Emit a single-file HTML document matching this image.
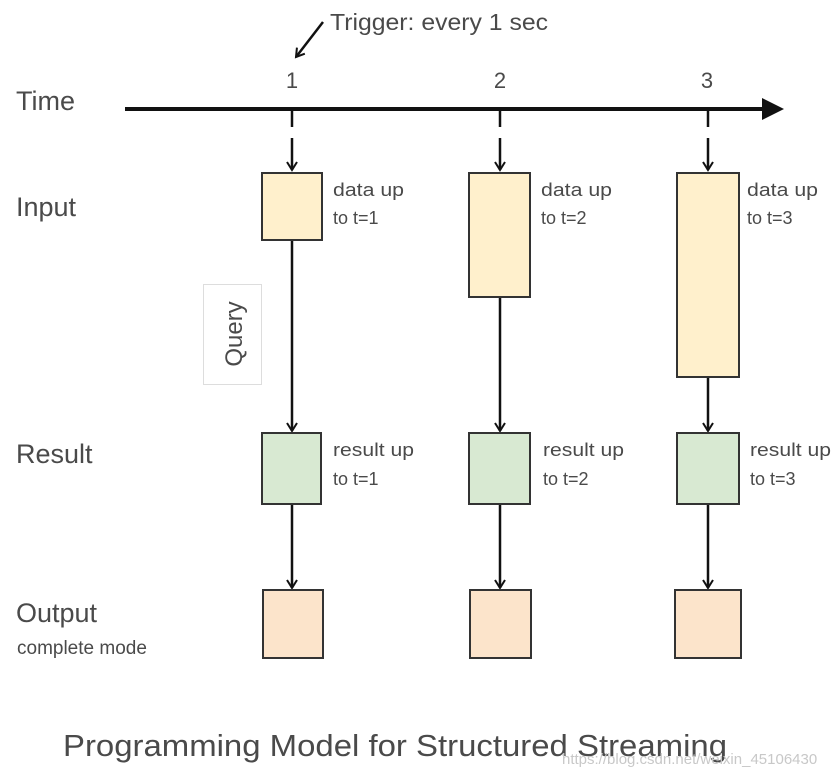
<!DOCTYPE html>
<html><head><meta charset="utf-8"><style>
html,body{margin:0;padding:0;background:#fff;}
svg{display:block;}
text{font-family:"Liberation Sans",sans-serif;fill:#4a4a4a;}
</style></head><body>
<svg width="839" height="779" viewBox="0 0 839 779" xmlns="http://www.w3.org/2000/svg">
<defs>
<marker id="ah" markerWidth="12" markerHeight="12" refX="10" refY="6" orient="auto" markerUnits="userSpaceOnUse" viewBox="0 0 12 12">
<path d="M2,1 L10,6 L2,11" fill="none" stroke="#111" stroke-width="2"/>
</marker>
</defs>
<line x1="125" y1="109" x2="764" y2="109" stroke="#111" stroke-width="4"/>
<polygon points="762,98 784,109 762,120" fill="#111"/>
<text x="16" y="110" font-size="27">Time</text>
<text x="16" y="216" font-size="27">Input</text>
<text x="16" y="463" font-size="27">Result</text>
<text x="16" y="622" font-size="27">Output</text>
<text x="17" y="654" font-size="19">complete mode</text>
<text x="330" y="30" font-size="23" textLength="218" lengthAdjust="spacingAndGlyphs">Trigger: every 1 sec</text>
<line x1="323" y1="22" x2="296" y2="57" stroke="#111" stroke-width="2.5" marker-end="url(#ah)"/>
<text x="292" y="88" font-size="22" text-anchor="middle">1</text>
<text x="500" y="88" font-size="22" text-anchor="middle">2</text>
<text x="707" y="88" font-size="22" text-anchor="middle">3</text>
<g stroke="#111" stroke-width="2.5" fill="none">
<line x1="292" y1="111" x2="292" y2="127"/><line x1="292" y1="138" x2="292" y2="170" marker-end="url(#ah)"/>
<line x1="500" y1="111" x2="500" y2="127"/><line x1="500" y1="138" x2="500" y2="170" marker-end="url(#ah)"/>
<line x1="708" y1="111" x2="708" y2="127"/><line x1="708" y1="138" x2="708" y2="170" marker-end="url(#ah)"/>
<line x1="292" y1="240" x2="292" y2="431" marker-end="url(#ah)"/>
<line x1="500" y1="297" x2="500" y2="431" marker-end="url(#ah)"/>
<line x1="708" y1="377" x2="708" y2="431" marker-end="url(#ah)"/>
<line x1="292" y1="505" x2="292" y2="588" marker-end="url(#ah)"/>
<line x1="500" y1="505" x2="500" y2="588" marker-end="url(#ah)"/>
<line x1="708" y1="505" x2="708" y2="588" marker-end="url(#ah)"/>
</g>
<g stroke="#333" stroke-width="2">
<rect x="262" y="173" width="60" height="67" fill="#fff0cc"/>
<rect x="469" y="173" width="61" height="124" fill="#fff0cc"/>
<rect x="677" y="173" width="62" height="204" fill="#fff0cc"/>
<rect x="262" y="433" width="59" height="71" fill="#d8e9d2"/>
<rect x="469" y="433" width="61" height="71" fill="#d8e9d2"/>
<rect x="677" y="433" width="62" height="71" fill="#d8e9d2"/>
<rect x="263" y="590" width="60" height="68" fill="#fce4cb"/>
<rect x="470" y="590" width="61" height="68" fill="#fce4cb"/>
<rect x="675" y="590" width="66" height="68" fill="#fce4cb"/>
</g>
<rect x="203.5" y="284.5" width="58" height="100" fill="#fff" stroke="#ddd" stroke-width="1"/>
<text transform="translate(242,334) rotate(-90)" font-size="24" text-anchor="middle">Query</text>
<g font-size="18">
<text x="333" y="196" textLength="71" lengthAdjust="spacingAndGlyphs">data up</text><text x="333" y="224">to t=1</text>
<text x="541" y="196" textLength="71" lengthAdjust="spacingAndGlyphs">data up</text><text x="541" y="224">to t=2</text>
<text x="747" y="196" textLength="71" lengthAdjust="spacingAndGlyphs">data up</text><text x="747" y="224">to t=3</text>
<text x="333" y="456" textLength="81" lengthAdjust="spacingAndGlyphs">result up</text><text x="333" y="485">to t=1</text>
<text x="543" y="456" textLength="81" lengthAdjust="spacingAndGlyphs">result up</text><text x="543" y="485">to t=2</text>
<text x="750" y="456" textLength="81" lengthAdjust="spacingAndGlyphs">result up</text><text x="750" y="485">to t=3</text>
</g>
<text x="63" y="756" font-size="31" textLength="664" lengthAdjust="spacingAndGlyphs">Programming Model for Structured Streaming</text>
<text x="562" y="764" font-size="15" style="fill:#c8c8c8">https://blog.csdn.net/weixin_45106430</text>
</svg>
</body></html>
